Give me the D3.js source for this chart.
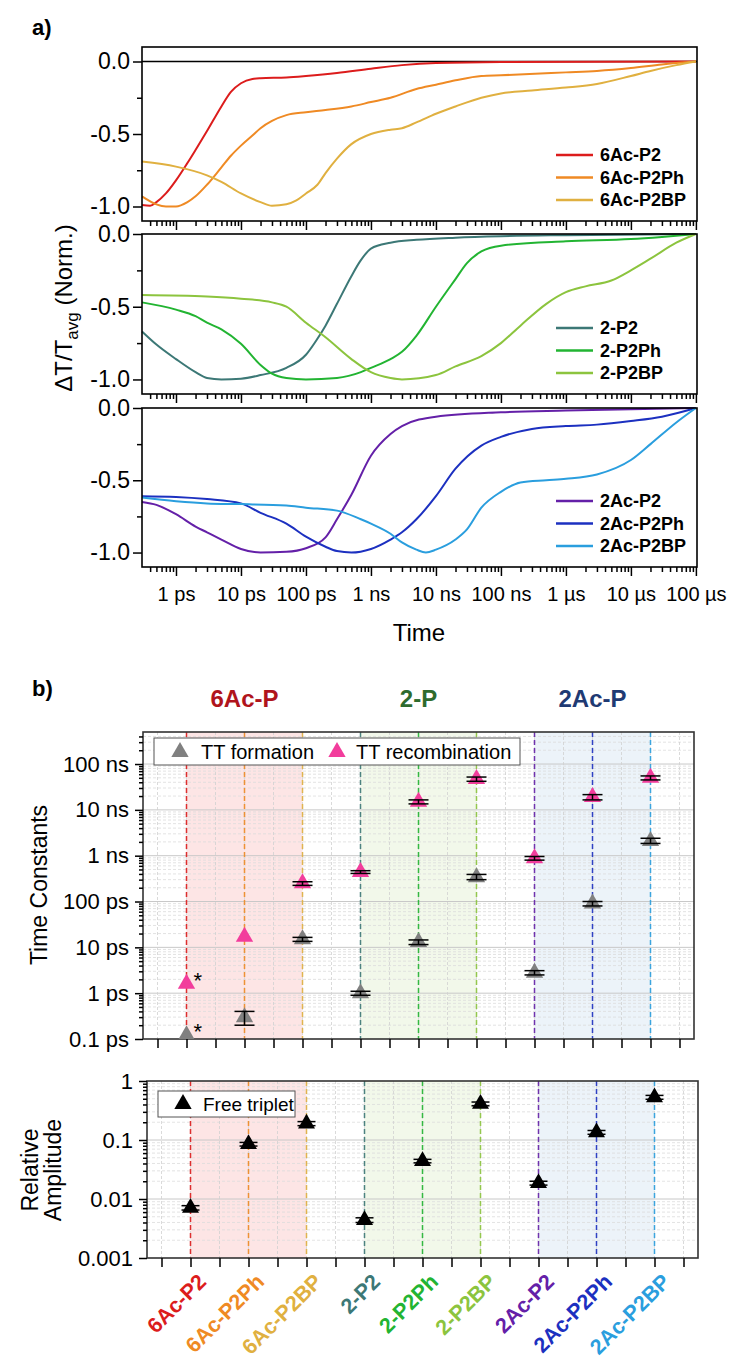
<!DOCTYPE html>
<html>
<head>
<meta charset="utf-8">
<script src="https://cdn.jsdelivr.net/npm/d3@7"></script>
<style>
  body { margin: 0; background: #fff; }
  svg { font-family: "Liberation Sans", Arial, sans-serif; }
</style>
</head>
<body>
<svg id="mainsvg" width="729" height="1362"></svg>
<script>
const svg = d3.select('#mainsvg')
const width = +svg.attr('width')
const height = +svg.attr('height')

// ---------------- panel a data: time in ps, normalised dT/T ----------------
const t6AcP2 = [0.3, 0.4, 0.5, 0.7, 1, 1.5, 2, 3, 5, 7, 10, 15, 20, 50, 100, 300, 1e3, 3e3, 1e4, 1e5, 1e8]
const v6AcP2 = [-0.99, -0.995, -0.97, -0.91, -0.82, -0.70, -0.61, -0.48, -0.31, -0.21, -0.15, -0.12, -0.115, -0.11, -0.10, -0.08, -0.05, -0.025, -0.01, -0.003, 0]
const t6AcP2Ph = [0.3, 0.5, 0.7, 1, 1.5, 2, 3, 5, 7, 10, 15, 20, 30, 50, 100, 200, 500, 1e3, 2e3, 5e3, 1e4, 2e4, 5e4, 1e5, 1e6, 3e6, 1e7, 3e7, 1e8]
const v6AcP2Ph = [-0.93, -0.985, -1.0, -1.0, -0.97, -0.93, -0.85, -0.73, -0.65, -0.58, -0.51, -0.46, -0.41, -0.37, -0.35, -0.335, -0.31, -0.28, -0.25, -0.19, -0.16, -0.13, -0.10, -0.095, -0.075, -0.065, -0.045, -0.02, 0]
const t6AcP2BP = [0.3, 1, 3, 5, 10, 20, 30, 50, 70, 100, 150, 200, 300, 500, 1e3, 2e3, 3e3, 5e3, 1e4, 2e4, 5e4, 1e5, 3e5, 1e6, 3e6, 1e7, 2e7, 5e7, 1e8]
const v6AcP2BP = [-0.69, -0.725, -0.785, -0.83, -0.91, -0.97, -0.995, -0.985, -0.96, -0.91, -0.85, -0.77, -0.67, -0.57, -0.50, -0.47, -0.46, -0.42, -0.36, -0.31, -0.25, -0.22, -0.20, -0.18, -0.155, -0.10, -0.065, -0.025, 0]

const t2P2 = [0.3, 0.5, 1, 2, 3, 5, 10, 20, 50, 100, 150, 200, 300, 500, 700, 1e3, 2e3, 5e3, 2e4, 1e5, 1e6, 1e8]
const v2P2 = [-0.67, -0.76, -0.86, -0.95, -0.99, -1.0, -0.995, -0.97, -0.92, -0.83, -0.72, -0.63, -0.48, -0.29, -0.18, -0.10, -0.06, -0.04, -0.025, -0.015, -0.008, 0]
const t2P2Ph = [0.3, 1, 2, 3, 5, 10, 20, 30, 50, 100, 300, 700, 1e3, 2e3, 3e3, 5e3, 1e4, 2e4, 3e4, 5e4, 1e5, 1e6, 1e7, 3e7, 1e8]
const v2P2Ph = [-0.47, -0.52, -0.565, -0.61, -0.655, -0.755, -0.90, -0.96, -0.99, -1.0, -0.99, -0.95, -0.92, -0.86, -0.81, -0.70, -0.50, -0.31, -0.20, -0.12, -0.08, -0.05, -0.035, -0.02, 0]
const t2P2BP = [0.3, 3, 10, 30, 50, 100, 200, 500, 1e3, 2e3, 3e3, 1e4, 2e4, 5e4, 1e5, 2e5, 5e5, 1e6, 2e6, 5e6, 1e7, 2e7, 5e7, 1e8]
const v2P2BP = [-0.42, -0.43, -0.445, -0.47, -0.50, -0.61, -0.71, -0.86, -0.95, -0.99, -1.0, -0.97, -0.91, -0.84, -0.75, -0.63, -0.48, -0.40, -0.36, -0.32, -0.25, -0.17, -0.06, 0]

const t2AcP2 = [0.3, 0.5, 1, 2, 3, 5, 10, 20, 50, 100, 200, 300, 500, 1e3, 2e3, 3e3, 1e4, 1e5, 1e6, 1e8]
const v2AcP2 = [-0.65, -0.67, -0.735, -0.82, -0.86, -0.91, -0.975, -1.0, -0.995, -0.97, -0.895, -0.77, -0.60, -0.33, -0.18, -0.125, -0.06, -0.03, -0.018, 0]
const t2AcP2Ph = [0.3, 1, 3, 10, 20, 50, 100, 200, 300, 500, 1e3, 2e3, 3e3, 5e3, 1e4, 2e4, 5e4, 1e5, 3e5, 1e6, 3e6, 1e7, 3e7, 1e8]
const v2AcP2Ph = [-0.61, -0.615, -0.63, -0.66, -0.725, -0.80, -0.89, -0.96, -0.99, -1.0, -0.975, -0.91, -0.86, -0.77, -0.61, -0.42, -0.26, -0.20, -0.145, -0.125, -0.115, -0.09, -0.06, 0]
const t2AcP2BP = [0.3, 1, 3, 10, 50, 100, 300, 700, 1e3, 2e3, 3e3, 5e3, 7e3, 1e4, 2e4, 3e4, 5e4, 1e5, 2e5, 5e5, 1e6, 3e6, 1e7, 2e7, 5e7, 1e8]
const v2AcP2BP = [-0.62, -0.645, -0.66, -0.665, -0.675, -0.69, -0.71, -0.77, -0.80, -0.87, -0.93, -0.98, -1.0, -0.98, -0.91, -0.84, -0.69, -0.58, -0.515, -0.50, -0.49, -0.46, -0.36, -0.25, -0.10, 0]

const timeTicks = [1, 10, 100, 1e3, 1e4, 1e5, 1e6, 1e7, 1e8]
const timeLabels = ['1 ps', '10 ps', '100 ps', '1 ns', '10 ns', '100 ns', '1 µs', '10 µs', '100 µs']

// ---------------- panel b data ----------------
const samples = ['6Ac-P2', '6Ac-P2Ph', '6Ac-P2BP', '2-P2', '2-P2Ph', '2-P2BP', '2Ac-P2', '2Ac-P2Ph', '2Ac-P2BP']
const sampleColors = ['#dc1c1c', '#ef8a24', '#e0b040', '#3c7876', '#22b432', '#8cc43e', '#6420a8', '#1c30c0', '#2a9ede']
// time constants in ps
const tauForm = [0.12, 0.3, 15, 1.0, 13, 340, 2.8, 90, 2100]
const tauFormLo = [0.12, 0.2, 13.5, 0.9, 11.5, 300, 2.5, 80, 1850]
const tauFormHi = [0.12, 0.4, 16.5, 1.1, 14.5, 390, 3.1, 100, 2400]
const tauRec = [1.6, 17, 250, 440, 15000, 47000, 880, 19000, 50000]
const tauRecLo = [1.6, 17, 225, 410, 13500, 42000, 800, 16500, 45000]
const tauRecHi = [1.6, 17, 270, 470, 16500, 52000, 960, 21500, 55000]
// relative amplitude of free triplets
const freeTriplet = [0.0071, 0.085, 0.19, 0.0044, 0.044, 0.41, 0.0186, 0.135, 0.53]
const freeLo = [0.0065, 0.079, 0.175, 0.0040, 0.041, 0.38, 0.0172, 0.125, 0.49]
const freeHi = [0.0077, 0.091, 0.205, 0.0048, 0.047, 0.44, 0.0200, 0.145, 0.57]

const groupNames = ['6Ac-P', '2-P', '2Ac-P']
const groupColors = ['#b0141c', '#2e6b2e', '#1f3a73']
const groupShade = ['#fde5e5', '#f2f8ea', '#ecf3f9']

const tauTicks = [0.1, 1, 10, 100, 1e3, 1e4, 1e5]
const tauLabels = ['0.1 ps', '1 ps', '10 ps', '100 ps', '1 ns', '10 ns', '100 ns']
const ampTicks = [0.001, 0.01, 0.1, 1]
const ampLabels = ['0.001', '0.01', '0.1', '1']

// ---------------- helpers ----------------
function minorLog(lo, hi) {
    const out = []
    for (let e = Math.floor(Math.log10(lo)); e <= Math.ceil(Math.log10(hi)); e++) {
        for (let k = 2; k <= 9; k++) {
            const v = k * Math.pow(10, e)
            if (v > lo * 1.0001 && v < hi * 0.9999) out.push(v)
        }
    }
    return out
}
function styleAxis(sel, fs) {
    sel.select('.domain').remove()
    sel.selectAll('line').attr('stroke', '#000').attr('stroke-width', 1.5)
    sel.selectAll('text').attr('fill', '#000').attr('font-size', fs)
        .attr('font-family', '"Liberation Sans", Arial, sans-serif')
}
const zip = (a, b) => a.map((d, i) => [d, b[i]])

svg.append('rect').attr('width', width).attr('height', height).attr('fill', '#fff')

// ======================= panel a =======================
const xA = d3.scaleLog().domain([0.3, 1.04e8]).range([142, 697])
const panelsA = [
    { top: 47, bottom: 221, lo: -1.1, hi: 0.1, names: samples.slice(0, 3), colors: sampleColors.slice(0, 3),
      data: [zip(t6AcP2, v6AcP2), zip(t6AcP2Ph, v6AcP2Ph), zip(t6AcP2BP, v6AcP2BP)] },
    { top: 234, bottom: 394, lo: -1.1, hi: 0, names: samples.slice(3, 6), colors: sampleColors.slice(3, 6),
      data: [zip(t2P2, v2P2), zip(t2P2Ph, v2P2Ph), zip(t2P2BP, v2P2BP)] },
    { top: 408, bottom: 567, lo: -1.1, hi: 0, names: samples.slice(6, 9), colors: sampleColors.slice(6, 9),
      data: [zip(t2AcP2, v2AcP2), zip(t2AcP2Ph, v2AcP2Ph), zip(t2AcP2BP, v2AcP2BP)] }
]

panelsA.forEach((p, pi) => {
    const y = d3.scaleLinear().domain([p.lo, p.hi]).range([p.bottom, p.top])
    const g = svg.append('g')
    if (p.hi > 0) {
        g.append('line').attr('x1', 142).attr('x2', 697).attr('y1', y(0)).attr('y2', y(0))
            .attr('stroke', '#000').attr('stroke-width', 1.5)
    }
    const line = d3.line().x(d => xA(d[0])).y(d => y(d[1])).curve(d3.curveMonotoneX)
    p.data.forEach((d, i) => {
        g.append('path').attr('d', line(d)).attr('fill', 'none')
            .attr('stroke', p.colors[i]).attr('stroke-width', 2)
    })
    g.append('rect').attr('x', 142).attr('y', p.top).attr('width', 555).attr('height', p.bottom - p.top)
        .attr('fill', 'none').attr('stroke', '#000').attr('stroke-width', 1.6)

    // y axis
    g.append('g').attr('transform', 'translate(142,0)')
        .call(d3.axisLeft(y).tickValues([0, -0.5, -1]).tickSize(9).tickPadding(3).tickFormat(d => d.toFixed(1)))
        .call(s => styleAxis(s, 23))
    g.append('g').attr('transform', 'translate(142,0)')
        .call(d3.axisLeft(y).tickValues([-0.25, -0.75]).tickSize(5).tickFormat(''))
        .call(s => styleAxis(s, 23))

    // x axis
    const last = pi === panelsA.length - 1
    g.append('g').attr('transform', `translate(0,${p.bottom})`)
        .call(d3.axisBottom(xA).tickValues(timeTicks).tickSize(9).tickPadding(11)
            .tickFormat((d, i) => last ? timeLabels[i] : ''))
        .call(s => styleAxis(s, 20))
    g.append('g').attr('transform', `translate(0,${p.bottom})`)
        .call(d3.axisBottom(xA).tickValues(minorLog(0.3, 1.04e8)).tickSize(5).tickFormat(''))
        .call(s => styleAxis(s, 20))

    // legend
    p.names.forEach((n, i) => {
        const ly = p.bottom - 21 - (2 - i) * 22.5
        g.append('line').attr('x1', 556).attr('x2', 593).attr('y1', ly).attr('y2', ly)
            .attr('stroke', p.colors[i]).attr('stroke-width', 2.5)
        g.append('text').attr('x', 600).attr('y', ly).attr('dy', '0.35em')
            .attr('font-size', 18).attr('font-weight', 'bold').text(n)
    })
})

svg.append('text').attr('x', 419).attr('y', 641).attr('text-anchor', 'middle')
    .attr('font-size', 24).text('Time')
const yTitleA = svg.append('text').attr('transform', 'translate(72,308) rotate(-90)')
    .attr('text-anchor', 'middle').attr('font-size', 24)
yTitleA.append('tspan').text('ΔT/T')
yTitleA.append('tspan').attr('dy', 6).attr('font-size', 17).text('avg')
yTitleA.append('tspan').attr('dy', -6).text(' (Norm.)')

svg.append('text').attr('x', 32).attr('y', 35).attr('font-size', 22).attr('font-weight', 'bold').text('a)')
svg.append('text').attr('x', 32).attr('y', 696).attr('font-size', 22).attr('font-weight', 'bold').text('b)')

// ======================= panel b =======================
const halfSteps = d3.range(0.5, 9.51, 0.5)
const sampleIdx = d3.range(1, 10)

function categoryPanel(g, x, y, top, bottom, left, right, majorTicks, majorLabels) {
    // shaded groups
    groupShade.forEach((c, i) => {
        g.append('rect').attr('x', x(3 * i + 1)).attr('y', top)
            .attr('width', x(3 * i + 3) - x(3 * i + 1)).attr('height', bottom - top).attr('fill', c)
    })
    const lo = y.domain()[0], hi = y.domain()[1]
    // grid
    g.selectAll(null).data(minorLog(lo, hi)).join('line')
        .attr('x1', left).attr('x2', right).attr('y1', d => y(d)).attr('y2', d => y(d))
        .attr('stroke', '#dcdcdc').attr('stroke-width', 0.8).attr('stroke-dasharray', '3,2')
    g.selectAll(null).data(majorTicks.filter(d => d > lo && d < hi)).join('line')
        .attr('x1', left).attr('x2', right).attr('y1', d => y(d)).attr('y2', d => y(d))
        .attr('stroke', '#c8c8c8').attr('stroke-width', 1)
    g.selectAll(null).data(halfSteps).join('line')
        .attr('x1', d => x(d)).attr('x2', d => x(d)).attr('y1', top).attr('y2', bottom)
        .attr('stroke', '#d0d0d0').attr('stroke-width', 0.8).attr('stroke-dasharray', '3,2')
    g.selectAll(null).data(sampleIdx).join('line')
        .attr('x1', d => x(d)).attr('x2', d => x(d)).attr('y1', top).attr('y2', bottom)
        .attr('stroke', (d, i) => sampleColors[i]).attr('stroke-width', 1.5).attr('stroke-dasharray', '5,3')
        .attr('opacity', 0.9)
    // frame and axes
    g.append('rect').attr('x', left).attr('y', top).attr('width', right - left).attr('height', bottom - top)
        .attr('fill', 'none').attr('stroke', '#333').attr('stroke-width', 1.6)
    g.append('g').attr('transform', `translate(0,${bottom})`)
        .call(d3.axisBottom(x).tickValues(halfSteps).tickSize(9).tickFormat(''))
        .call(s => styleAxis(s, 20))
    g.append('g').attr('transform', `translate(${left},0)`)
        .call(d3.axisLeft(y).tickValues(majorTicks).tickSize(8).tickPadding(6).tickFormat((d, i) => majorLabels[i]))
        .call(s => styleAxis(s, 22))
    g.append('g').attr('transform', `translate(${left},0)`)
        .call(d3.axisLeft(y).tickValues(minorLog(lo, hi)).tickSize(4).tickFormat(''))
        .call(s => styleAxis(s, 22))
}

function errorBars(g, x, y, lo, hi, capW) {
    sampleIdx.forEach((s, i) => {
        if (lo[i] === hi[i]) return
        g.append('line').attr('x1', x(s)).attr('x2', x(s)).attr('y1', y(lo[i])).attr('y2', y(hi[i]))
            .attr('stroke', '#000').attr('stroke-width', 1.5)
        ;[lo[i], hi[i]].forEach(v => {
            g.append('line').attr('x1', x(s) - capW / 2).attr('x2', x(s) + capW / 2)
                .attr('y1', y(v)).attr('y2', y(v)).attr('stroke', '#000').attr('stroke-width', 1.5)
        })
    })
}

const tri = d3.symbol().type(d3.symbolTriangle).size(130)

// ---- time constants ----
const xb = d3.scaleLinear().domain([0.25, 9.75]).range([143, 694])
const yb = d3.scaleLog().domain([0.1, 5e5]).range([1039, 732])
const gb = svg.append('g')
categoryPanel(gb, xb, yb, 732, 1039, 143, 694, tauTicks, tauLabels)

svg.append('clipPath').attr('id', 'clipB').append('rect')
    .attr('x', 143).attr('y', 732).attr('width', 551).attr('height', 307)
const mb = gb.append('g').attr('clip-path', 'url(#clipB)')
mb.selectAll(null).data(tauForm).join('path').attr('d', tri)
    .attr('transform', (d, i) => `translate(${xb(i + 1)},${yb(d)})`).attr('fill', '#808080')
mb.selectAll(null).data(tauRec).join('path').attr('d', tri)
    .attr('transform', (d, i) => `translate(${xb(i + 1)},${yb(d)})`).attr('fill', '#f23d9c')
errorBars(mb, xb, yb, tauFormLo, tauFormHi, 20)
errorBars(mb, xb, yb, tauRecLo, tauRecHi, 20)
;[tauRec[0], tauForm[0]].forEach(v => {
    gb.append('text').attr('x', xb(1) + 7).attr('y', yb(v) + 4).attr('font-size', 22).text('*')
})

// legend
gb.append('rect').attr('x', 154).attr('y', 738).attr('width', 366).attr('height', 27)
    .attr('fill', '#fff').attr('stroke', '#555').attr('stroke-width', 1)
gb.append('path').attr('d', tri).attr('transform', 'translate(180,752)').attr('fill', '#808080')
gb.append('text').attr('x', 201).attr('y', 752).attr('dy', '0.35em').attr('font-size', 20).text('TT formation')
gb.append('path').attr('d', tri).attr('transform', 'translate(337,752)').attr('fill', '#f23d9c')
gb.append('text').attr('x', 356).attr('y', 752).attr('dy', '0.35em').attr('font-size', 20).text('TT recombination')

groupNames.forEach((n, i) => {
    svg.append('text').attr('x', xb(3 * i + 2)).attr('y', 707).attr('text-anchor', 'middle')
        .attr('font-size', 24).attr('font-weight', 'bold').attr('fill', groupColors[i]).text(n)
})

svg.append('text').attr('transform', 'translate(47,885) rotate(-90)')
    .attr('text-anchor', 'middle').attr('font-size', 23).text('Time Constants')

// ---- relative amplitude ----
const xc = d3.scaleLinear().domain([0.25, 9.75]).range([147, 698])
const yc = d3.scaleLog().domain([0.001, 1]).range([1258, 1081])
const gc = svg.append('g')
categoryPanel(gc, xc, yc, 1081, 1258, 147, 698, ampTicks, ampLabels)
gc.selectAll(null).data(freeTriplet).join('path').attr('d', d3.symbol().type(d3.symbolTriangle).size(125))
    .attr('transform', (d, i) => `translate(${xc(i + 1)},${yc(d)})`).attr('fill', '#000')
errorBars(gc, xc, yc, freeLo, freeHi, 18)

gc.append('rect').attr('x', 158).attr('y', 1091).attr('width', 137).attr('height', 26)
    .attr('fill', '#fff').attr('stroke', '#555').attr('stroke-width', 1)
gc.append('path').attr('d', tri).attr('transform', 'translate(183,1104)').attr('fill', '#000')
gc.append('text').attr('x', 203).attr('y', 1104).attr('dy', '0.35em').attr('font-size', 19).text('Free triplet')

const yTitleC = svg.append('text').attr('transform', 'translate(0,1170) rotate(-90)')
    .attr('text-anchor', 'middle').attr('font-size', 23)
yTitleC.append('tspan').attr('x', 0).attr('y', 38).text('Relative')
yTitleC.append('tspan').attr('x', 0).attr('y', 61).text('Amplitude')

// rotated sample labels
sampleIdx.forEach((s, i) => {
    svg.append('text').attr('transform', `translate(${xc(s) + 17},1283) rotate(-45)`)
        .attr('text-anchor', 'end').attr('font-size', 21.5).attr('font-weight', 'bold')
        .attr('fill', sampleColors[i]).text(samples[i])
})
</script>
</body>
</html>
